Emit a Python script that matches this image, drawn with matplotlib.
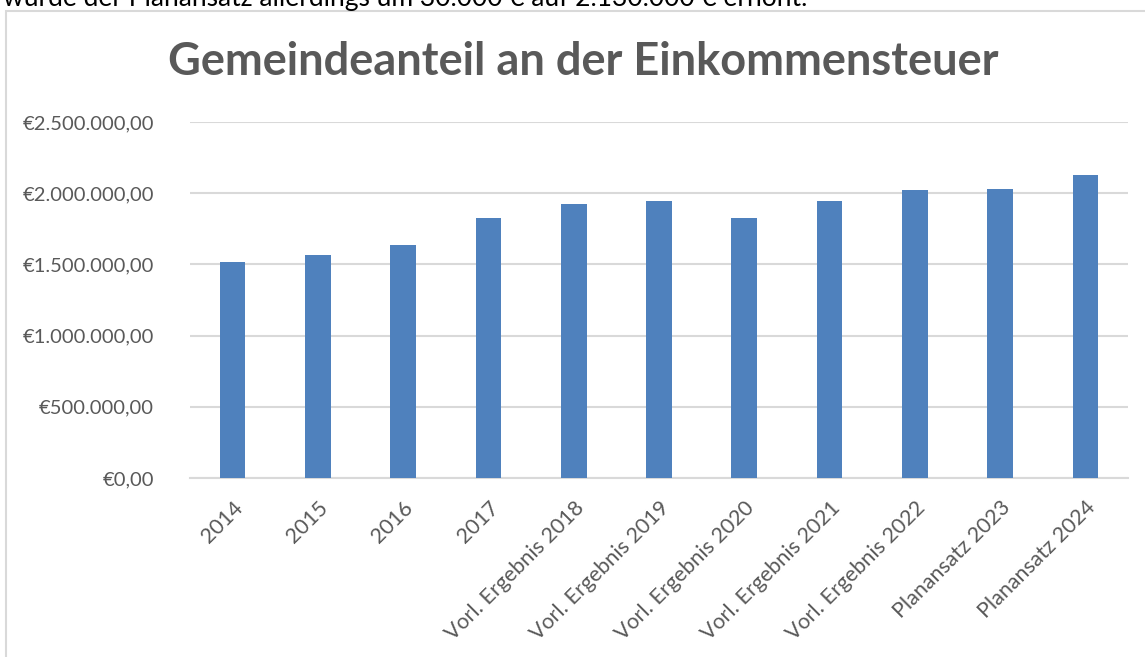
import matplotlib
matplotlib.use("Agg")
import matplotlib.pyplot as plt
from matplotlib.patches import Rectangle
from matplotlib.ticker import FuncFormatter

categories = ["2014", "2015", "2016", "2017",
              "Vorl. Ergebnis 2018", "Vorl. Ergebnis 2019", "Vorl. Ergebnis 2020",
              "Vorl. Ergebnis 2021", "Vorl. Ergebnis 2022",
              "Planansatz 2023", "Planansatz 2024"]
values = [1515000, 1565000, 1634000, 1828000, 1925000, 1948000,
          1824000, 1946000, 2021000, 2030000, 2130000]
y_ticks = [0, 500000, 1000000, 1500000, 2000000, 2500000]

title = "Gemeindeanteil an der Einkommensteuer"
top_text = "wurde der Planansatz allerdings um 30.000 € auf 2.130.000 € erhöht."

bar_color = "#4f81bd"
text_gray = "#595959"
grid_gray = "#d9d9d9"

plt.rcParams["font.family"] = ["Lato", "DejaVu Sans"]


def euro(v, pos=None):
    s = f"{v:,.2f}"  # 2,500,000.00
    s = s.replace(",", "X").replace(".", ",").replace("X", ".")
    return "€" + s


fig = plt.figure(figsize=(11.45, 6.57), dpi=100)

# cut off line of the surrounding document
fig.text(0.003, 1 - 6 / 657, top_text, fontsize=19, color="black",
         ha="left", va="baseline")

# chart area border (only left and top visible)
fig.add_artist(Rectangle((6 / 1145, -0.1), 1.2, 1 - 11 / 657 + 0.1,
                         transform=fig.transFigure, fill=False,
                         edgecolor=grid_gray, lw=1.5))

ax = fig.add_axes([190 / 1145, 1 - 478 / 657, 938 / 1145, 356 / 657])

x = list(range(len(categories)))
ax.bar(x, values, width=0.3, color=bar_color, zorder=3)

ax.set_xlim(-0.5, len(categories) - 0.5)
ax.set_ylim(0, 2500000)
ax.set_yticks(y_ticks)
ax.yaxis.set_major_formatter(FuncFormatter(euro))
ax.grid(axis="y", color=grid_gray, lw=1.5, zorder=0)
ax.set_axisbelow(True)

for s in ["top", "right", "left"]:
    ax.spines[s].set_visible(False)
ax.spines["bottom"].set_color(grid_gray)
ax.spines["bottom"].set_linewidth(1.5)

ax.tick_params(axis="both", length=0, labelcolor=text_gray)
ax.tick_params(axis="y", pad=26, labelsize=14.5)
ax.set_xticks(x)
ax.set_xticklabels(categories, rotation=45, ha="right", va="top",
                   rotation_mode="anchor")
ax.tick_params(axis="x", pad=14, labelsize=15.5)

fig.text(583 / 1145, 1 - 62 / 657, title, fontsize=32.5, fontweight="bold",
         color=text_gray, ha="center", va="center")

fig.savefig("out.png", dpi=100)
